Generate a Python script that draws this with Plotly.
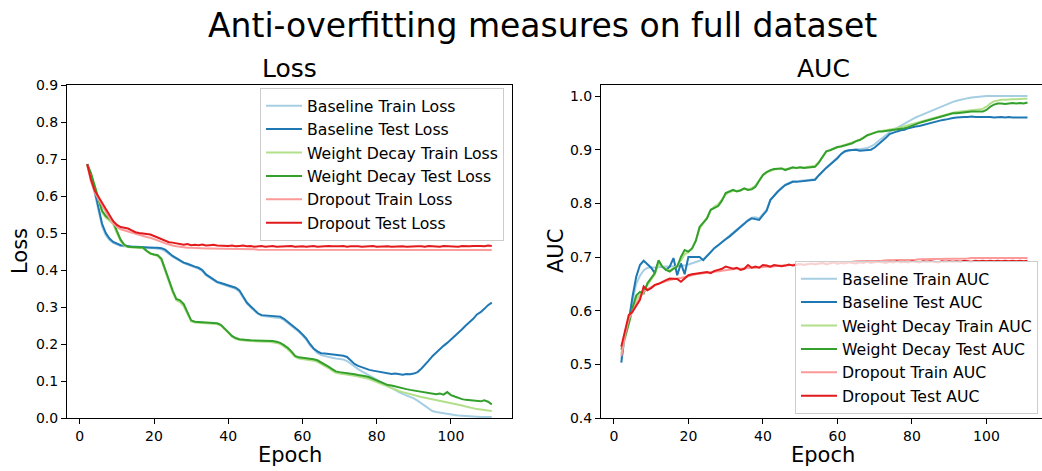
import plotly.graph_objects as go

# ---- data -------------------------------------------------------------
epochs = list(range(2, 112))

baseline_train_loss = [
    0.684, 0.650, 0.608, 0.562, 0.518, 0.494, 0.481, 0.473, 0.468, 0.465,
    0.464, 0.463, 0.462, 0.461, 0.461, 0.460, 0.460, 0.459, 0.459, 0.458,
    0.456, 0.451, 0.443, 0.436, 0.430, 0.424, 0.419, 0.415, 0.410, 0.407,
    0.403, 0.397, 0.386, 0.379, 0.371, 0.366, 0.363, 0.360, 0.356, 0.353,
    0.349, 0.341, 0.325, 0.310, 0.299, 0.289, 0.281, 0.276, 0.274, 0.273,
    0.272, 0.271, 0.270, 0.265, 0.257, 0.251, 0.242, 0.233, 0.223, 0.212,
    0.197, 0.185, 0.176, 0.170, 0.167, 0.165, 0.163, 0.161, 0.160, 0.158,
    0.154, 0.146, 0.138, 0.132, 0.126, 0.121, 0.116, 0.110, 0.104, 0.098,
    0.092, 0.086, 0.080, 0.075, 0.070, 0.065, 0.061, 0.058, 0.053, 0.047,
    0.040, 0.031, 0.024, 0.019, 0.016, 0.014, 0.012, 0.010, 0.009, 0.008,
    0.007, 0.006, 0.005, 0.005, 0.004, 0.004, 0.003, 0.003, 0.003, 0.003,
]
baseline_test_loss = [
    0.686, 0.655, 0.615, 0.570, 0.525, 0.500, 0.485, 0.476, 0.471, 0.467,
    0.466, 0.464, 0.463, 0.463, 0.462, 0.462, 0.461, 0.461, 0.460, 0.460,
    0.459, 0.455, 0.446, 0.438, 0.432, 0.425, 0.420, 0.417, 0.412, 0.409,
    0.406, 0.400, 0.388, 0.381, 0.373, 0.368, 0.365, 0.362, 0.358, 0.355,
    0.352, 0.345, 0.328, 0.312, 0.302, 0.292, 0.283, 0.278, 0.277, 0.276,
    0.276, 0.275, 0.274, 0.268, 0.260, 0.254, 0.245, 0.236, 0.226, 0.215,
    0.200, 0.188, 0.180, 0.175, 0.174, 0.173, 0.171, 0.170, 0.169, 0.168,
    0.165, 0.156, 0.146, 0.141, 0.137, 0.133, 0.130, 0.128, 0.126, 0.124,
    0.122, 0.120, 0.119, 0.120, 0.118, 0.117, 0.119, 0.118, 0.120, 0.124,
    0.133, 0.143, 0.155, 0.167, 0.177, 0.186, 0.195, 0.203, 0.212, 0.220,
    0.230, 0.240, 0.250, 0.258, 0.268, 0.280, 0.286, 0.295, 0.305, 0.312,
]
decay_train_loss = [
    0.684, 0.660, 0.625, 0.590, 0.556, 0.542, 0.534, 0.524, 0.500, 0.478,
    0.466, 0.462, 0.461, 0.461, 0.460, 0.459, 0.451, 0.444, 0.441, 0.438,
    0.426, 0.396, 0.366, 0.340, 0.318, 0.313, 0.302, 0.280, 0.261, 0.258,
    0.257, 0.257, 0.256, 0.256, 0.255, 0.254, 0.250, 0.241, 0.230, 0.220,
    0.214, 0.211, 0.209, 0.209, 0.208, 0.207, 0.207, 0.206, 0.206, 0.206,
    0.205, 0.203, 0.200, 0.194, 0.186, 0.176, 0.165, 0.161, 0.160, 0.159,
    0.157, 0.155, 0.152, 0.147, 0.141, 0.135, 0.128, 0.122, 0.120, 0.119,
    0.118, 0.116, 0.114, 0.112, 0.110, 0.108, 0.105, 0.101, 0.097, 0.092,
    0.088, 0.083, 0.080, 0.077, 0.073, 0.070, 0.067, 0.064, 0.062, 0.059,
    0.057, 0.055, 0.053, 0.051, 0.049, 0.048, 0.046, 0.044, 0.042, 0.040,
    0.037, 0.034, 0.031, 0.028, 0.026, 0.024, 0.023, 0.021, 0.020, 0.019,
]
decay_test_loss = [
    0.686, 0.662, 0.628, 0.594, 0.560, 0.546, 0.538, 0.530, 0.505, 0.482,
    0.468, 0.463, 0.462, 0.462, 0.461, 0.461, 0.452, 0.445, 0.442, 0.440,
    0.430, 0.400, 0.370, 0.345, 0.322, 0.318, 0.308, 0.285, 0.264, 0.260,
    0.259, 0.259, 0.258, 0.258, 0.257, 0.256, 0.252, 0.243, 0.232, 0.222,
    0.216, 0.213, 0.211, 0.211, 0.210, 0.210, 0.209, 0.209, 0.208, 0.209,
    0.208, 0.206, 0.203, 0.197, 0.190, 0.180, 0.168, 0.164, 0.163, 0.162,
    0.160, 0.159, 0.156, 0.151, 0.145, 0.139, 0.132, 0.126, 0.124, 0.123,
    0.122, 0.120, 0.118, 0.116, 0.115, 0.113, 0.110, 0.106, 0.102, 0.097,
    0.093, 0.089, 0.088, 0.085, 0.082, 0.080, 0.078, 0.076, 0.074, 0.072,
    0.070, 0.068, 0.066, 0.066, 0.064, 0.066, 0.063, 0.070, 0.062, 0.058,
    0.054, 0.051, 0.049, 0.048, 0.046, 0.047, 0.045, 0.048, 0.044, 0.037,
]
dropout_train_loss = [
    0.684, 0.640, 0.610, 0.592, 0.575, 0.558, 0.540, 0.526, 0.516, 0.510,
    0.507, 0.504, 0.500, 0.496, 0.493, 0.491, 0.489, 0.487, 0.484, 0.480,
    0.476, 0.472, 0.468, 0.466, 0.464, 0.462, 0.461, 0.460, 0.460, 0.459,
    0.459, 0.459, 0.458, 0.458, 0.458, 0.457, 0.457, 0.457, 0.457, 0.456,
    0.456, 0.456, 0.456, 0.456, 0.456, 0.456, 0.455, 0.455, 0.455, 0.455,
    0.455, 0.455, 0.455, 0.455, 0.455, 0.455, 0.455, 0.455, 0.455, 0.455,
    0.455, 0.455, 0.455, 0.455, 0.455, 0.455, 0.455, 0.455, 0.455, 0.455,
    0.455, 0.455, 0.455, 0.454, 0.454, 0.454, 0.454, 0.454, 0.454, 0.454,
    0.454, 0.454, 0.454, 0.454, 0.454, 0.454, 0.454, 0.454, 0.454, 0.454,
    0.454, 0.454, 0.454, 0.454, 0.454, 0.454, 0.454, 0.454, 0.454, 0.454,
    0.454, 0.454, 0.454, 0.454, 0.454, 0.454, 0.454, 0.454, 0.454, 0.454,
]
dropout_test_loss = [
    0.686, 0.645, 0.615, 0.598, 0.582, 0.566, 0.548, 0.532, 0.522, 0.516,
    0.514, 0.512, 0.507, 0.502, 0.500, 0.499, 0.497, 0.496, 0.492, 0.488,
    0.484, 0.480, 0.475, 0.474, 0.472, 0.470, 0.468, 0.470, 0.467, 0.468,
    0.467, 0.469, 0.466, 0.467, 0.468, 0.466, 0.465, 0.466, 0.465, 0.466,
    0.464, 0.465, 0.466, 0.464, 0.465, 0.463, 0.464, 0.465, 0.463, 0.464,
    0.465, 0.463, 0.464, 0.463, 0.464, 0.465, 0.463, 0.464, 0.464, 0.463,
    0.464, 0.465, 0.463, 0.464, 0.463, 0.465, 0.464, 0.463, 0.464, 0.465,
    0.463, 0.464, 0.465, 0.464, 0.463, 0.464, 0.464, 0.465, 0.463, 0.464,
    0.465, 0.464, 0.463, 0.464, 0.465, 0.464, 0.463, 0.464, 0.465, 0.464,
    0.464, 0.463, 0.465, 0.464, 0.464, 0.463, 0.465, 0.464, 0.465, 0.464,
    0.463, 0.465, 0.464, 0.464, 0.465, 0.466, 0.465, 0.464, 0.466, 0.465,
]

baseline_train_auc = [
    0.510, 0.560, 0.585, 0.620, 0.650, 0.665, 0.675, 0.680, 0.680, 0.681,
    0.681, 0.682, 0.682, 0.682, 0.683, 0.683, 0.684, 0.684, 0.686, 0.688,
    0.690, 0.693, 0.696, 0.702, 0.709, 0.716, 0.722, 0.727, 0.733, 0.739,
    0.745, 0.751, 0.758, 0.764, 0.769, 0.773, 0.774, 0.772, 0.780, 0.788,
    0.807, 0.815, 0.823, 0.829, 0.835, 0.838, 0.841, 0.841, 0.842, 0.843,
    0.843, 0.844, 0.845, 0.853, 0.861, 0.867, 0.873, 0.879, 0.885, 0.892,
    0.896, 0.898, 0.900, 0.901, 0.901, 0.902, 0.903, 0.906, 0.910, 0.916,
    0.921, 0.927, 0.933, 0.937, 0.941, 0.945, 0.949, 0.953, 0.956, 0.960,
    0.963, 0.966, 0.969, 0.972, 0.975, 0.978, 0.981, 0.984, 0.987, 0.989,
    0.991, 0.993, 0.995, 0.996, 0.997, 0.998, 0.999, 0.999, 1.000, 1.000,
    1.000, 1.000, 1.000, 1.000, 1.000, 1.000, 1.000, 1.000, 1.000, 1.000,
]
baseline_test_auc = [
    0.503, 0.558, 0.579, 0.626, 0.663, 0.685, 0.693, 0.686, 0.680, 0.670,
    0.691, 0.682, 0.676, 0.682, 0.698, 0.666, 0.688, 0.668, 0.700, 0.700,
    0.700, 0.700, 0.694, 0.702, 0.710, 0.717, 0.722, 0.728, 0.733, 0.738,
    0.744, 0.750, 0.757, 0.763, 0.768, 0.772, 0.771, 0.769, 0.778, 0.786,
    0.806, 0.815, 0.822, 0.828, 0.834, 0.837, 0.840, 0.840, 0.841, 0.842,
    0.842, 0.843, 0.844, 0.852, 0.860, 0.866, 0.872, 0.878, 0.884, 0.892,
    0.897, 0.899, 0.899, 0.900, 0.898, 0.899, 0.899, 0.900, 0.904, 0.910,
    0.915, 0.922, 0.929, 0.932, 0.934, 0.936, 0.937, 0.940, 0.942, 0.943,
    0.944, 0.946, 0.948, 0.950, 0.952, 0.953, 0.955, 0.956, 0.958, 0.959,
    0.960, 0.961, 0.961, 0.961, 0.962, 0.961, 0.961, 0.962, 0.961, 0.961,
    0.960, 0.961, 0.961, 0.960, 0.961, 0.960, 0.960, 0.960, 0.961, 0.960,
]
decay_train_auc = [
    0.520, 0.548, 0.575, 0.602, 0.622, 0.630, 0.636, 0.648, 0.658, 0.668,
    0.688, 0.682, 0.677, 0.675, 0.679, 0.684, 0.693, 0.705, 0.709, 0.716,
    0.732, 0.752, 0.763, 0.774, 0.788, 0.794, 0.798, 0.808, 0.816, 0.821,
    0.823, 0.823, 0.825, 0.827, 0.826, 0.828, 0.833, 0.843, 0.852, 0.858,
    0.861, 0.863, 0.864, 0.865, 0.864, 0.865, 0.866, 0.867, 0.867, 0.867,
    0.868, 0.869, 0.870, 0.877, 0.887, 0.896, 0.899, 0.902, 0.905, 0.907,
    0.909, 0.911, 0.913, 0.916, 0.919, 0.923, 0.927, 0.930, 0.932, 0.934,
    0.935, 0.936, 0.937, 0.938, 0.940, 0.942, 0.944, 0.946, 0.948, 0.950,
    0.952, 0.954, 0.956, 0.958, 0.960, 0.962, 0.964, 0.966, 0.968, 0.969,
    0.970, 0.971, 0.972, 0.973, 0.974, 0.975, 0.975, 0.976, 0.980, 0.986,
    0.990, 0.992, 0.993, 0.993, 0.994, 0.994, 0.994, 0.995, 0.995, 0.995,
]
decay_test_auc = [
    0.527, 0.550, 0.576, 0.605, 0.628, 0.635, 0.632, 0.651, 0.660, 0.670,
    0.694, 0.682, 0.676, 0.673, 0.678, 0.682, 0.700, 0.713, 0.710, 0.716,
    0.730, 0.756, 0.764, 0.772, 0.788, 0.792, 0.795, 0.805, 0.819, 0.822,
    0.825, 0.822, 0.824, 0.828, 0.825, 0.826, 0.831, 0.842, 0.853, 0.858,
    0.862, 0.864, 0.865, 0.865, 0.862, 0.864, 0.867, 0.866, 0.867, 0.866,
    0.867, 0.868, 0.868, 0.876, 0.886, 0.897, 0.899, 0.902, 0.905, 0.906,
    0.908, 0.910, 0.912, 0.916, 0.918, 0.922, 0.927, 0.929, 0.932, 0.934,
    0.934, 0.935, 0.935, 0.936, 0.937, 0.938, 0.940, 0.942, 0.945, 0.948,
    0.950, 0.952, 0.954, 0.956, 0.958, 0.960, 0.962, 0.964, 0.966, 0.968,
    0.968, 0.969, 0.970, 0.970, 0.971, 0.971, 0.971, 0.971, 0.974, 0.980,
    0.984, 0.986, 0.986, 0.985, 0.986, 0.987, 0.986, 0.987, 0.986, 0.988,
]
dropout_train_auc = [
    0.515, 0.555, 0.585, 0.600, 0.612, 0.625, 0.635, 0.640, 0.644, 0.647,
    0.650, 0.653, 0.655, 0.657, 0.659, 0.660, 0.661, 0.663, 0.665, 0.667,
    0.668, 0.669, 0.670, 0.671, 0.672, 0.673, 0.674, 0.675, 0.676, 0.677,
    0.677, 0.678, 0.678, 0.679, 0.679, 0.680, 0.680, 0.681, 0.681, 0.682,
    0.682, 0.683, 0.683, 0.684, 0.684, 0.685, 0.685, 0.686, 0.686, 0.686,
    0.687, 0.687, 0.688, 0.688, 0.688, 0.689, 0.689, 0.690, 0.690, 0.690,
    0.691, 0.691, 0.691, 0.692, 0.692, 0.692, 0.692, 0.693, 0.693, 0.693,
    0.693, 0.694, 0.694, 0.694, 0.694, 0.695, 0.695, 0.695, 0.695, 0.695,
    0.696, 0.696, 0.696, 0.696, 0.696, 0.696, 0.697, 0.697, 0.697, 0.697,
    0.697, 0.697, 0.697, 0.697, 0.698, 0.698, 0.698, 0.698, 0.698, 0.698,
    0.698, 0.698, 0.698, 0.698, 0.698, 0.698, 0.698, 0.698, 0.698, 0.698,
]
dropout_test_auc = [
    0.533, 0.564, 0.592, 0.598, 0.610, 0.620, 0.645, 0.638, 0.642, 0.648,
    0.650, 0.654, 0.657, 0.660, 0.660, 0.659, 0.654, 0.660, 0.666, 0.668,
    0.669, 0.670, 0.670, 0.672, 0.670, 0.674, 0.676, 0.678, 0.682, 0.680,
    0.678, 0.680, 0.676, 0.678, 0.685, 0.680, 0.682, 0.680, 0.685, 0.684,
    0.682, 0.685, 0.684, 0.683, 0.684, 0.686, 0.684, 0.686, 0.687, 0.685,
    0.686, 0.688, 0.686, 0.687, 0.689, 0.686, 0.688, 0.690, 0.687, 0.689,
    0.688, 0.690, 0.689, 0.688, 0.690, 0.689, 0.691, 0.689, 0.690, 0.691,
    0.690, 0.689, 0.691, 0.690, 0.692, 0.690, 0.691, 0.690, 0.692, 0.691,
    0.690, 0.692, 0.691, 0.692, 0.691, 0.690, 0.692, 0.691, 0.692, 0.691,
    0.692, 0.691, 0.693, 0.692, 0.691, 0.693, 0.692, 0.693, 0.692, 0.693,
    0.692, 0.693, 0.692, 0.693, 0.692, 0.693, 0.692, 0.693, 0.692, 0.693,
]

x_ticks = [0, 20, 40, 60, 80, 100]
loss_ticks = [0.0, 0.1, 0.2, 0.3, 0.4, 0.5, 0.6, 0.7, 0.8, 0.9]
auc_ticks = [0.4, 0.5, 0.6, 0.7, 0.8, 0.9, 1.0]

# "Paired" palette: light/dark pairs for train/test
colors = ["#a6cee3", "#1f78b4", "#b2df8a", "#33a02c", "#fb9a99", "#e31a1c"]

loss_series = [
    ("Baseline Train Loss", baseline_train_loss),
    ("Baseline Test Loss", baseline_test_loss),
    ("Weight Decay Train Loss", decay_train_loss),
    ("Weight Decay Test Loss", decay_test_loss),
    ("Dropout Train Loss", dropout_train_loss),
    ("Dropout Test Loss", dropout_test_loss),
]
auc_series = [
    ("Baseline Train AUC", baseline_train_auc),
    ("Baseline Test AUC", baseline_test_auc),
    ("Weight Decay Train AUC", decay_train_auc),
    ("Weight Decay Test AUC", decay_test_auc),
    ("Dropout Train AUC", dropout_train_auc),
    ("Dropout Test AUC", dropout_test_auc),
]

W, H = 1042, 471
FONT = "DejaVu Sans"

fig = go.Figure()
for (name, vals), col in zip(loss_series, colors):
    fig.add_trace(go.Scatter(x=epochs, y=vals, name=name, mode="lines",
                             line=dict(color=col, width=2),
                             xaxis="x", yaxis="y", legend="legend"))
for (name, vals), col in zip(auc_series, colors):
    fig.add_trace(go.Scatter(x=epochs, y=vals, name=name, mode="lines",
                             line=dict(color=col, width=2),
                             xaxis="x2", yaxis="y2", legend="legend2"))


def px_x(p):
    return p / W


def px_y(p):
    return 1 - p / H


axis_common = dict(showline=True, linecolor="#000000", linewidth=1,
                   ticks="outside", ticklen=5, tickwidth=1, tickcolor="#000000",
                   showgrid=False, zeroline=False, automargin=False,
                   tickfont=dict(family=FONT, size=14, color="#000000"))

legend_common = dict(bgcolor="rgba(255,255,255,0.8)", bordercolor="#cccccc",
                     borderwidth=1, font=dict(family=FONT, size=15.7, color="#000000"),
                     tracegroupgap=0, itemwidth=36)

fig.update_layout(
    template="none",
    width=W, height=H,
    margin=dict(l=0, r=0, t=0, b=0, pad=0, autoexpand=False),
    paper_bgcolor="white", plot_bgcolor="white",
    font=dict(family=FONT, color="#000000"),
    xaxis=dict(domain=[px_x(67), px_x(512)], range=[-3.45, 116.45],
               tickvals=x_ticks, mirror=True, anchor="y", **axis_common),
    yaxis=dict(domain=[px_y(418), px_y(85)], range=[0, 0.9],
               tickvals=loss_ticks, tickformat=".1f", mirror=True, anchor="x",
               **axis_common),
    xaxis2=dict(domain=[px_x(601), 1.0], range=[-3.45, 114.9],
                tickvals=x_ticks, mirror=True, anchor="y2", **axis_common),
    yaxis2=dict(domain=[px_y(418), px_y(85)], range=[0.4, 1.0205],
                tickvals=auc_ticks, tickformat=".1f", anchor="x2",
                **axis_common),
    legend=dict(x=px_x(504), y=px_y(88), xanchor="right", yanchor="top",
                **legend_common),
    legend2=dict(x=px_x(795), y=px_y(414), xanchor="left", yanchor="bottom",
                 **legend_common),
    showlegend=True,
)

annotations = [
    dict(text="Anti-overfitting measures on full dataset", x=px_x(542), y=px_y(26),
         font=dict(size=33)),
    dict(text="Loss", x=px_x(289.5), y=px_y(69), font=dict(size=25)),
    dict(text="AUC", x=px_x(823), y=px_y(69), font=dict(size=25)),
    dict(text="Epoch", x=px_x(289.5), y=px_y(455), font=dict(size=21)),
    dict(text="Epoch", x=px_x(823), y=px_y(455), font=dict(size=21)),
    dict(text="Loss", x=px_x(20), y=px_y(251), font=dict(size=21), textangle=-90),
    dict(text="AUC", x=px_x(556), y=px_y(251), font=dict(size=21), textangle=-90),
]
for a in annotations:
    a.update(xref="paper", yref="paper", xanchor="center", yanchor="middle",
             showarrow=False)
    a["font"].update(family=FONT, color="#000000")
fig.update_layout(annotations=annotations)

fig.write_html("out.html")
